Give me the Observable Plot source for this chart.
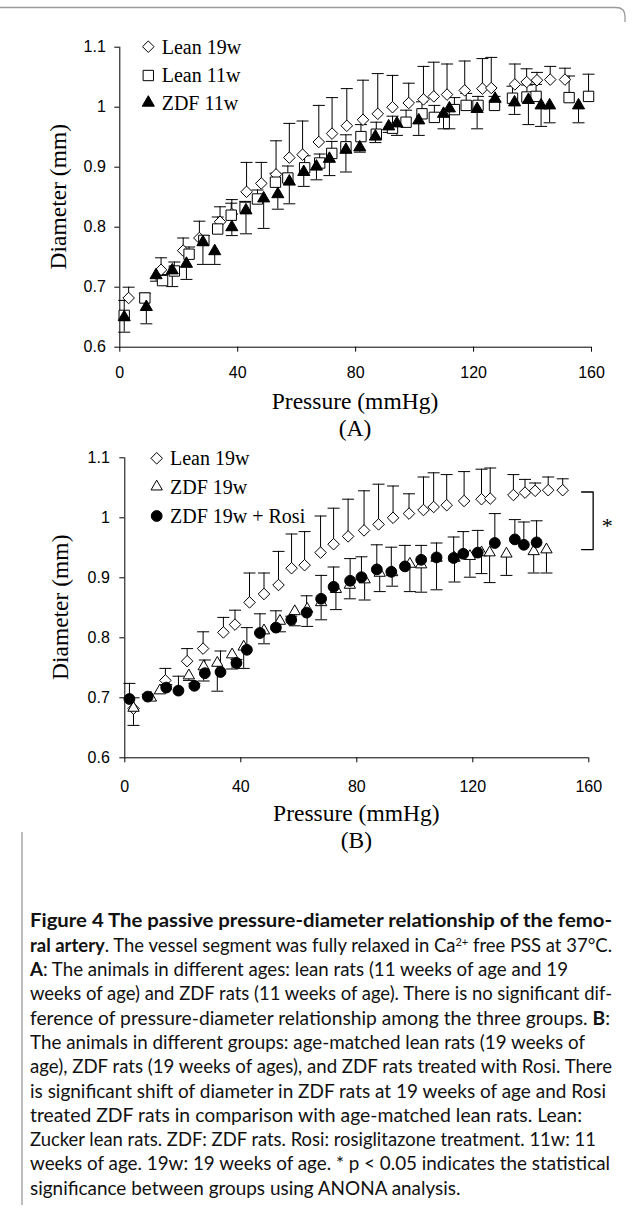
<!DOCTYPE html>
<html><head><meta charset="utf-8">
<script src="https://cdn.jsdelivr.net/npm/d3@7"></script>
<script src="https://cdn.jsdelivr.net/npm/@observablehq/plot@0.6"></script>
<style>
html,body{margin:0;padding:0;background:#fff;}
body{width:634px;height:1213px;position:relative;overflow:hidden;}
.abs{position:absolute;left:0;}
</style></head><body>
<div id="A" class="abs" style="top:0;z-index:1"></div>
<div id="B" class="abs" style="top:410px;z-index:1"></div>
<svg id="over" class="abs" style="top:0;z-index:2" width="634" height="1213"></svg>
<script>
// ---------- data ----------
const xTicks = [0, 40, 80, 120, 160];
const xTickLabels = ["0", "40", "80", "120", "160"];
const yTicks = [0.6, 0.7, 0.8, 0.9, 1, 1.1];
const yTickLabels = ["0.6", "0.7", "0.8", "0.9", "1", "1.1"];

// Lean 19w (same group in panels A and B), upper SD
const lean19P = [3, 14, 21.5, 27, 34, 38, 43, 48, 53, 57.5, 62, 67.5, 72, 77, 82.5, 87.5, 92.5, 98, 103, 106.5, 111, 117, 123, 126, 134, 138, 141.5, 146, 151];
const lean19D = [0.682, 0.729, 0.761, 0.782, 0.809, 0.822, 0.859, 0.873, 0.888, 0.916, 0.921, 0.942, 0.956, 0.969, 0.979, 0.989, 1.0, 1.007, 1.013, 1.018, 1.021, 1.028, 1.031, 1.032, 1.038, 1.042, 1.045, 1.046, 1.046];
const lean19E = [0.018, 0.02, 0.021, 0.028, 0.025, 0.024, 0.049, 0.035, 0.056, 0.057, 0.056, 0.061, 0.06, 0.062, 0.066, 0.067, 0.053, 0.033, 0.055, 0.057, 0.051, 0.049, 0.05, 0.051, 0.034, 0.022, 0.013, 0.022, 0.019];

// Lean 11w (panel A), upper SD
const lean11P = [1.5, 8.5, 14.5, 18.5, 23.5, 28.5, 33.2, 37.8, 42.5, 46.7, 52.8, 57, 62.7, 67.8, 71.9, 76.7, 81.8, 87, 92.5, 97.1, 102.5, 106.7, 113.5, 117.5, 121.5, 127.1, 133.2, 138.1, 141.2, 152.4, 159];
const lean11D = [0.653, 0.682, 0.711, 0.727, 0.755, 0.778, 0.797, 0.82, 0.833, 0.847, 0.875, 0.882, 0.899, 0.907, 0.923, 0.934, 0.951, 0.955, 0.965, 0.975, 0.989, 0.983, 0.996, 1.003, 1.003, 1.003, 1.015, 1.017, 1.018, 1.016, 1.018];
const lean11E = [0.025, 0.008, 0.01, 0.015, 0.012, 0.008, 0.02, 0.02, 0.01, 0.015, 0.015, 0.02, 0.02, 0.015, 0.02, 0.02, 0.02, 0.02, 0.02, 0.02, 0.02, 0.02, 0.02, 0.02, 0.015, 0.015, 0.02, 0.02, 0.02, 0.036, 0.037];

// ZDF 11w (panel A), lower SD
const zdf11P = [1.5, 9, 12.3, 17.8, 22.6, 28.2, 32.2, 38, 42.8, 48.8, 53.6, 57.5, 62.4, 66.7, 71.1, 76.7, 81.4, 86.7, 91.2, 94, 101.4, 109.8, 111.8, 121.2, 127.3, 133.9, 138.6, 142.9, 145.8, 155.6];
const zdf11D = [0.65, 0.667, 0.72, 0.728, 0.739, 0.775, 0.76, 0.8, 0.828, 0.848, 0.855, 0.876, 0.892, 0.901, 0.914, 0.929, 0.933, 0.951, 0.968, 0.973, 0.978, 0.989, 0.998, 0.997, 1.014, 1.008, 1.012, 1.003, 1.003, 1.003];
const zdf11E = [0.025, 0.028, 0.01, 0.027, 0.026, 0.037, 0.022, 0.014, 0.039, 0.05, 0.025, 0.037, 0.024, 0.022, 0.028, 0.037, 0.008, 0.01, 0.01, 0.02, 0.025, 0.025, 0.034, 0.033, 0.005, 0.02, 0.041, 0.035, 0.029, 0.029];

// ZDF 19w (panel B), lower SD
const zdf19P = [3, 9, 12.1, 22.1, 27.2, 31.9, 37, 41, 48, 53.5, 58.6, 62.9, 67.7, 72.8, 77.6, 82.7, 87.9, 92.2, 98.3, 102.2, 107.5, 113.7, 119, 123, 125.8, 131.6, 141, 145.4];
const zdf19D = [0.683, 0.70, 0.712, 0.737, 0.752, 0.758, 0.772, 0.785, 0.812, 0.828, 0.844, 0.848, 0.859, 0.881, 0.888, 0.897, 0.908, 0.909, 0.923, 0.922, 0.933, 0.933, 0.936, 0.942, 0.942, 0.94, 0.944, 0.947];
const zdf19E = [0.029, 0, 0, 0.008, 0.024, 0.047, 0.024, 0.036, 0.022, 0.018, 0.024, 0.029, 0.029, 0.034, 0.023, 0.034, 0.031, 0.023, 0.046, 0.046, 0.053, 0.04, 0.035, 0.035, 0.05, 0.036, 0.036, 0.039];

// ZDF 19w + Rosi (panel B), upper SD
const rosiP = [1.6, 7.9, 14.3, 18.5, 24, 27.6, 33, 38.5, 42.1, 46.6, 52.1, 57.4, 62.7, 67.7, 72, 77.7, 81.6, 86.9, 91.9, 96.6, 102.2, 107.5, 113.4, 116.7, 121.7, 127.6, 134.5, 137.6, 142];
const rosiD = [0.698, 0.702, 0.717, 0.712, 0.72, 0.741, 0.743, 0.758, 0.78, 0.808, 0.817, 0.83, 0.842, 0.865, 0.885, 0.895, 0.901, 0.914, 0.91, 0.919, 0.93, 0.934, 0.933, 0.94, 0.942, 0.958, 0.964, 0.955, 0.959];
const rosiE = [0.026, 0.004, 0.005, 0.024, 0.004, 0.022, 0.035, 0.006, 0.037, 0.032, 0.028, 0.006, 0.028, 0.039, 0.033, 0.037, 0.034, 0.041, 0.041, 0.035, 0.024, 0.024, 0.035, 0.037, 0.037, 0.049, 0.033, 0.038, 0.036];

const legendA = ["Lean 19w", "Lean 11w", "ZDF 11w"];
const legendB = ["Lean 19w", "ZDF 19w", "ZDF 19w + Rosi"];
const xTitle = "Pressure (mmHg)";
const yTitle = "Diameter (mm)";
// significance bracket (panel B): spans from Lean 19w level to ZDF 19w level
const sigLabel = "*";
const sigBracket = [
  {x: 157.5, y: 1.043}, {x: 161.5, y: 1.043}, {x: 161.5, y: 0.947}, {x: 157.5, y: 0.947}
];
const sigText = [{x: 166.4, y: 0.987, label: sigLabel}];

// ---------- styling ----------
const SER = "'Liberation Serif','Times New Roman',serif";
const capSymbol = {draw(ctx) { ctx.moveTo(-6, 0); ctx.lineTo(6, 0); }};
const sty = {
  lean19: {symbol: "diamond2", r: 5.2, fill: "#fff", stroke: "#000"},
  lean11: {symbol: "square2", r: 6.6, fill: "#fff", stroke: "#000"},
  zdf11: {symbol: "triangle", r: 4.5, fill: "#000", stroke: "#000"},
  zdf19: {symbol: "triangle2", r: 5.4, fill: "#fff", stroke: "#000"},
  rosi: {symbol: "circle", r: 5.4, fill: "#000", stroke: "#000"}
};

function rowsOf(P, D, E) { return P.map((p, i) => ({p, d: D[i], e: E[i]})); }

function makePanel(cfg) {
  const marks = [
    Plot.ruleX([0], {stroke: "#000", strokeWidth: 1}),
    Plot.ruleY([0.6], {stroke: "#000", strokeWidth: 1}),
    Plot.axisX({ticks: xTicks, tickSize: 5, tickPadding: cfg.padX, label: null,
      tickFormat: d => xTickLabels[xTicks.indexOf(d)]}),
    Plot.axisY({ticks: yTicks, tickSize: 5, tickPadding: cfg.padY, label: null,
      tickFormat: d => yTickLabels[yTicks.indexOf(d)]})
  ];
  for (const s of cfg.series) {
    const rows = rowsOf(s.P, s.D, s.E).filter(r => r.e > 0);
    const end = r => r.d + s.dir * r.e;
    marks.push(Plot.ruleX(rows, {x: "p", y1: "d", y2: end, stroke: "#000", strokeWidth: 1}));
    marks.push(Plot.dot(rows, {x: "p", y: end, symbol: capSymbol, stroke: "#000", strokeWidth: 1, fill: "none"}));
  }
  for (const s of cfg.series) {
    const st = s.style;
    marks.push(Plot.dot(rowsOf(s.P, s.D, s.E), {x: "p", y: "d", symbol: st.symbol, r: st.r,
      fill: st.fill, stroke: st.stroke, strokeWidth: 1}));
  }
  if (cfg.extra) marks.push(...cfg.extra);
  return Plot.plot({
    width: 634, height: cfg.height,
    marginLeft: cfg.ml, marginRight: cfg.mr, marginTop: cfg.mt, marginBottom: cfg.mb,
    x: {domain: [0, 160]}, y: {domain: [0.6, 1.1]},
    style: {background: "none", color: "#000", fontFamily: "'Liberation Sans',Arial,sans-serif", fontSize: "16px", overflow: "visible"},
    marks
  });
}

document.getElementById("A").append(makePanel({
  height: 380, ml: 119.3, mr: 43, mt: 46.7, mb: 33.3, padX: 14, padY: 9,
  series: [
    {P: lean19P, D: lean19D, E: lean19E, dir: 1, style: sty.lean19},
    {P: lean11P, D: lean11D, E: lean11E, dir: 1, style: sty.lean11},
    {P: zdf11P, D: zdf11D, E: zdf11E, dir: -1, style: sty.zdf11}
  ]
}));

document.getElementById("B").append(makePanel({
  height: 380, ml: 124.3, mr: 45.7, mt: 47.3, mb: 32.7, padX: 18, padY: 10,
  series: [
    {P: lean19P, D: lean19D, E: lean19E, dir: 1, style: sty.lean19},
    {P: zdf19P, D: zdf19D, E: zdf19E, dir: -1, style: sty.zdf19},
    {P: rosiP, D: rosiD, E: rosiE, dir: 1, style: sty.rosi}
  ],
  extra: [
    Plot.line(sigBracket, {x: "x", y: "y", stroke: "#000", strokeWidth: 1.3}),
    Plot.text(sigText, {x: "x", y: "y", text: "label", fontSize: 22, fontFamily: SER})
  ]
}));

// ---------- overlay: titles, legends, caption, border ----------
const svg = d3.select("#over");
svg.append("path").attr("d", "M0,7.5H616Q625,7.5 625,16.5V22").attr("fill", "none").attr("stroke", "#9a9a9a").attr("stroke-width", 1.3);
svg.append("path").attr("d", "M22,832V1205").attr("fill", "none").attr("stroke", "#9a9a9a").attr("stroke-width", 1.3);

function title(x, y, txt, rot) {
  const t = svg.append("text").attr("text-anchor", "middle").attr("font-family", SER).attr("font-size", 23.5).attr("fill", "#000").text(txt);
  if (rot) t.attr("transform", `translate(${x},${y}) rotate(-90)`); else t.attr("x", x).attr("y", y);
}
title(66, 196.7, yTitle, true);
title(68, 607.3, yTitle, true);
title(355, 408.5, xTitle);
title(355, 435.5, "(A)");
title(356.3, 820.5, xTitle);
title(356.3, 847.5, "(B)");

function legend(items, styles, sx, tx, ys) {
  items.forEach((name, i) => {
    const st = styles[i];
    const type = {diamond2: d3.symbolDiamond2, square2: d3.symbolSquare2, triangle: d3.symbolTriangle, triangle2: d3.symbolTriangle2, circle: d3.symbolCircle}[st.symbol];
    svg.append("path").attr("d", d3.symbol(type, st.r * st.r * Math.PI)())
      .attr("transform", `translate(${sx},${ys[i]})`).attr("fill", st.fill).attr("stroke", st.stroke).attr("stroke-width", 1);
    svg.append("text").attr("x", tx).attr("y", ys[i]).attr("dy", "0.34em").attr("font-family", SER).attr("font-size", 20).attr("fill", "#000").text(name);
  });
}
legend(legendA, [sty.lean19, sty.lean11, sty.zdf11], 148.3, 161.7, [46.7, 75.5, 102.7]);
legend(legendB, [sty.lean19, sty.zdf19, sty.rosi], 156.7, 170, [458.3, 486.7, 516]);

// caption
const capLines = [
  [["b", "Figure 4 The passive pressure-diameter relationship of the femo-"]],
  [["b", "ral artery"], ["n", ". The vessel segment was fully relaxed in Ca"], ["s", "2+"], ["n", " free PSS at 37°C."]],
  [["b", "A"], ["n", ": The animals in different ages: lean rats (11 weeks of age and 19"]],
  [["n", "weeks of age) and ZDF rats (11 weeks of age). There is no significant dif-"]],
  [["n", "ference of pressure-diameter relationship among the three groups. "], ["b", "B"], ["n", ":"]],
  [["n", "The animals in different groups: age-matched lean rats (19 weeks of"]],
  [["n", "age), ZDF rats (19 weeks of ages), and ZDF rats treated with Rosi. There"]],
  [["n", "is significant shift of diameter in ZDF rats at 19 weeks of age and Rosi"]],
  [["n", "treated ZDF rats in comparison with age-matched lean rats. Lean:"]],
  [["n", "Zucker lean rats. ZDF: ZDF rats. Rosi: rosiglitazone treatment. 11w: 11"]],
  [["n", "weeks of age. 19w: 19 weeks of age. * p < 0.05 indicates the statistical"]],
  [["n", "significance between groups using ANONA analysis."]]
];
const capEnds = [612, 612, 568, 612, 610, 585, 612, 606, 582, 596, 610, null];
const capLeft = 30, capTop = 921, capLead = 24.3;
const capNodes = capLines.map((segs, i) => {
  const t = svg.append("text").attr("x", capLeft).attr("y", capTop + i * capLead).attr("dy", "0.35em")
    .attr("font-family", "Lato,'Noto Sans',sans-serif").attr("font-size", 18.5).attr("fill", "#111");
  segs.forEach(([k, s]) => {
    const ts = t.append("tspan").text(s);
    if (k === "b") ts.attr("font-weight", "bold");
    if (k === "s") ts.attr("font-size", 11).attr("baseline-shift", "super");
  });
  return t;
});
const natural = capNodes.map(t => t.node().getComputedTextLength());
const ratios = natural.map((n, i) => capEnds[i] ? (capEnds[i] - capLeft) / n : null).filter(r => r);
const meanRatio = d3.mean(ratios);
capNodes.forEach((t, i) => {
  const len = capEnds[i] ? capEnds[i] - capLeft : natural[i] * meanRatio;
  t.attr("textLength", len).attr("lengthAdjust", "spacingAndGlyphs");
});
</script>
</body></html>
